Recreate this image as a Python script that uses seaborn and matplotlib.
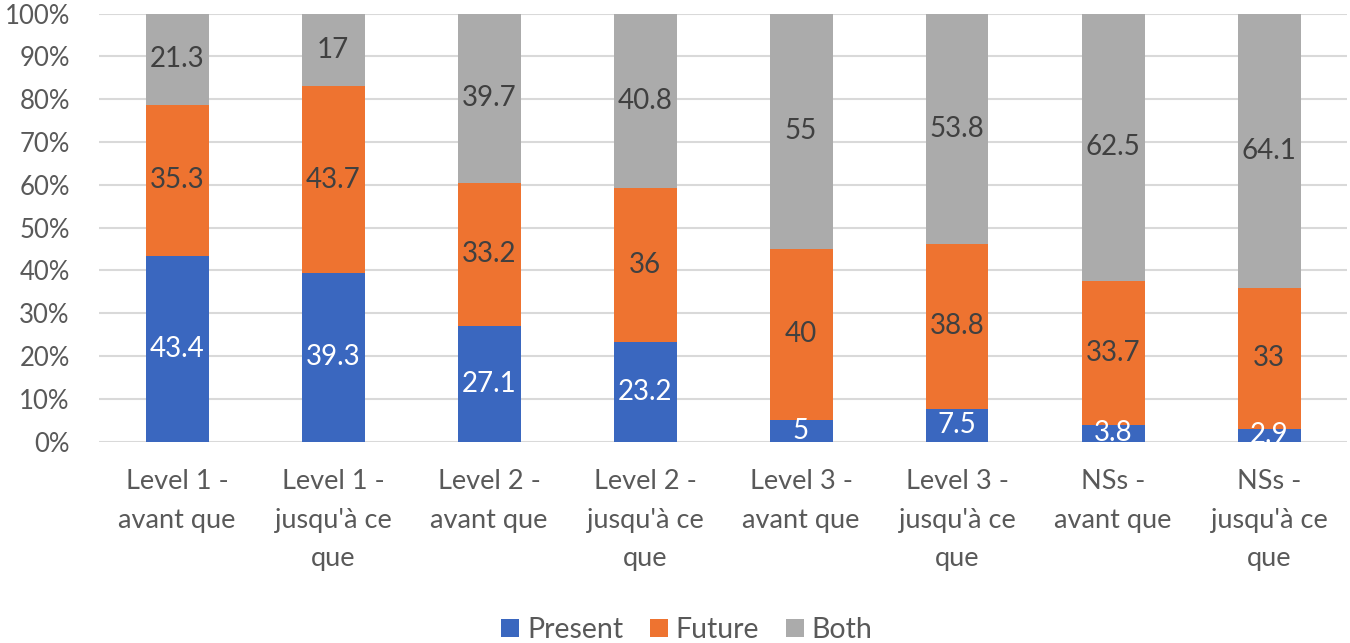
import matplotlib
matplotlib.use("Agg")
import matplotlib.pyplot as plt
import seaborn as sns
import pandas as pd
import numpy as np
from matplotlib.patches import Patch
from matplotlib.ticker import FuncFormatter, MultipleLocator

categories = ["Level 1 -\navant que", "Level 1 -\njusqu'à ce\nque",
              "Level 2 -\navant que", "Level 2 -\njusqu'à ce\nque",
              "Level 3 -\navant que", "Level 3 -\njusqu'à ce\nque",
              "NSs -\navant que", "NSs -\njusqu'à ce\nque"]
present = [43.4, 39.3, 27.1, 23.2, 5, 7.5, 3.8, 2.9]
future = [35.3, 43.7, 33.2, 36, 40, 38.8, 33.7, 33]
both = [21.3, 17, 39.7, 40.8, 55, 53.8, 62.5, 64.1]
series = ["Present", "Future", "Both"]
colors = {"Present": "#3A67BF", "Future": "#EE7330", "Both": "#ABABAB"}
label_colors = {"Present": "white", "Future": "#404040", "Both": "#404040"}

sns.set_theme(style="white")
plt.rcParams['font.family'] = ['Lato', 'DejaVu Sans']

df = pd.DataFrame({"cat": categories, "Present": present, "Future": future, "Both": both})
totals = df[series].sum(axis=1)
pct = df[series].div(totals, axis=0) * 100
df["c_Present"] = pct["Present"]
df["c_Future"] = pct["Present"] + pct["Future"]
df["c_Both"] = pct["Present"] + pct["Future"] + pct["Both"]

fig = plt.figure(figsize=(13.5, 6.43), dpi=100)
ax = fig.add_axes([99/1350, 1-441.5/643, 1248/1350, (441.5-13.5)/643])

for s in ["Both", "Future", "Present"]:
    sns.barplot(data=df, x="cat", y="c_" + s, color=colors[s], width=63/156,
                saturation=1, ax=ax, linewidth=0, zorder=3)

for i in range(len(categories)):
    base = 0
    for s in series:
        h = pct[s].iloc[i]
        val = df[s].iloc[i]
        ax.text(i, base + h/2, "%g" % val, ha="center", va="center", fontsize=20,
                color=label_colors[s], zorder=5)
        base += h

ax.set_ylim(0, 100)
ax.set_xlim(-0.5, len(categories) - 0.5)
ax.yaxis.set_major_locator(MultipleLocator(10))
ax.yaxis.set_major_formatter(FuncFormatter(lambda v, p: "%d%%" % round(v)))
ax.grid(axis="y", color="#D9D9D9", linewidth=1.5, zorder=0)
ax.set_axisbelow(True)
for sp in ax.spines.values():
    sp.set_visible(False)
ax.set_xlabel("")
ax.set_ylabel("")
ax.tick_params(axis="both", length=0, colors="#595959")
ax.tick_params(axis="x", labelsize=19.5, pad=20)
ax.tick_params(axis="y", labelsize=18.5, pad=21)
for lab in ax.get_xticklabels():
    lab.set_linespacing(1.68)
    lab.set_verticalalignment("top")

handles = [Patch(facecolor=colors[s], edgecolor="none", label=s) for s in series]
fig.legend(handles=handles, loc="center", bbox_to_anchor=(687/1350, 1-630/643), ncol=3,
           frameon=False, fontsize=20.5, handlelength=0.62, handleheight=0.62,
           handletextpad=0.28, columnspacing=0.95, labelcolor="#595959")

fig.savefig("out.png", dpi=100)
